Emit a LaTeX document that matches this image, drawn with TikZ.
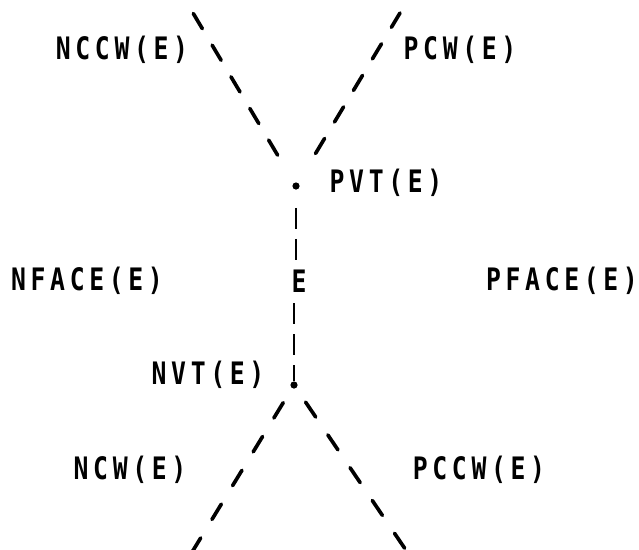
\documentclass[tikz,border=0pt]{standalone}
\usepackage{fontspec}
\usetikzlibrary{arrows.meta}
\newfontfamily\plotfont[LetterSpace=15,FakeStretch=0.8]{DejaVu Sans Mono}
\tikzset{
  tag/.style={font=\plotfont\bfseries\fontsize{22}{22}\selectfont,inner sep=0pt},
  vertex dot/.style={circle,fill=black,minimum size=1.8mm,inner sep=0pt},
  wing/.style={line width=2.6pt,line cap=round,dash pattern=on 0.44cm off 0.48cm},
  low wing/.style={wing,dash pattern=on 0.45cm off 0.54cm},
  bar edge/.style={line width=1.3pt,dash pattern=on 0.525cm off 0.25cm}
}
\begin{document}
\begin{tikzpicture}[x=0.025cm,y=-0.025cm]
\useasboundingbox (0,0) rectangle (639,549);

% vertices and the edge E
\node[vertex dot] (pv) at (296,186) {};
\node[vertex dot] (nv) at (294,385) {};
\node[tag] (e) at (299,281) {E};
\node[tag] (pvt) at (386,183) {PVT(E)};
\node[tag] (nvt) at (208,375) {NVT(E)};

% faces
\node[tag] (nface) at (87,281) {NFACE(E)};
\node[tag] (pface) at (562,281) {PFACE(E)};

% wings
\node[tag] (nccw) at (122,50) {NCCW(E)};
\node[tag] (pcw) at (460,50) {PCW(E)};
\node[tag] (ncw) at (130,470) {NCW(E)};
\node[tag] (pccw) at (479,470) {PCCW(E)};
\coordinate (tl) at (193,13);
\coordinate (tr) at (400,13);
\coordinate (bl) at (186,562);
\coordinate (br) at (414,562);

\draw[bar edge,shorten <=0.45cm] (pv) -- (e.north -| pv);
\draw[bar edge,shorten <=0.27cm] (e.south -| nv) -- (nv);

\draw[wing,shorten <=0.8cm] (pv) -- (tl);
\draw[wing,shorten <=0.85cm] (pv) -- (tr);
\draw[low wing,shorten <=0.42cm] (nv) -- (bl);
\draw[low wing,shorten <=0.42cm] (nv) -- (br);

\end{tikzpicture}
\end{document}
